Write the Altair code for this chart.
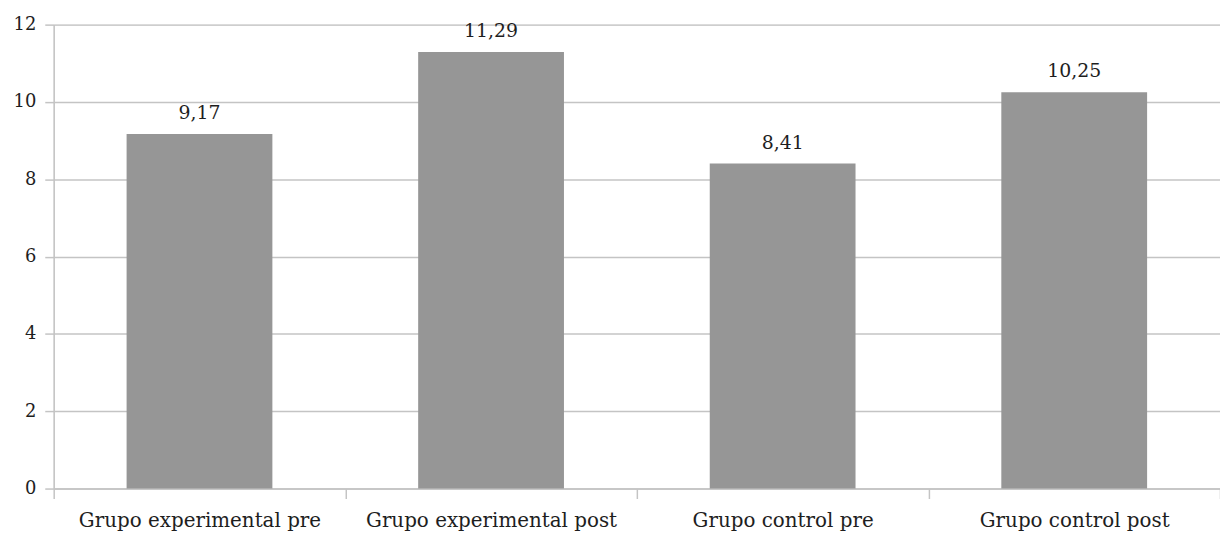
import altair as alt
import pandas as pd

categories = ["Grupo experimental pre", "Grupo experimental post", "Grupo control pre", "Grupo control post"]
values = [9.17, 11.29, 8.41, 10.25]

df = pd.DataFrame({"grupo": categories, "valor": values})
df["etiqueta"] = [f"{v:.2f}".replace(".", ",") for v in values]

FONT = "DejaVu Serif"
GRID = "#c4c4c4"
TXT = "#1e1e1e"

x_scale = alt.Scale(paddingInner=0, paddingOuter=0)

x_enc = alt.X(
    "grupo:N",
    sort=categories,
    title=None,
    scale=x_scale,
    axis=alt.Axis(
        labelAngle=0,
        labelFont=FONT,
        labelFontSize=20,
        labelColor=TXT,
        labelPadding=12,
        labelLimit=0,
        tickSize=10,
        tickBand="extent",
        tickColor=GRID,
        tickWidth=1.5,
        domainColor=GRID,
        domainWidth=1.5,
        grid=False,
    ),
)

y_enc = alt.Y(
    "valor:Q",
    title=None,
    scale=alt.Scale(domain=[0, 12], nice=False),
    axis=alt.Axis(
        values=[0, 2, 4, 6, 8, 10, 12],
        labelFont=FONT,
        labelFontSize=18,
        labelColor=TXT,
        labelPadding=9,
        tickSize=9,
        tickColor=GRID,
        tickWidth=1.5,
        domainColor=GRID,
        domainWidth=1.5,
        grid=True,
        gridColor=GRID,
        gridWidth=1.5,
    ),
)

bars = alt.Chart(df).mark_bar(color="#969696", width=alt.RelativeBandSize(0.5)).encode(x=x_enc, y=y_enc)

labels = alt.Chart(df).mark_text(
    font=FONT, fontSize=19, color=TXT, baseline="alphabetic", dy=-15
).encode(x=alt.X("grupo:N", sort=categories, scale=x_scale), y="valor:Q", text="etiqueta:N")

chart = (
    alt.layer(bars, labels)
    .properties(
        width=1174,
        height=467,
        autosize=alt.AutoSizeParams(type="none"),
        padding={"left": 46, "top": 15, "right": 0, "bottom": 44},
    )
    .configure_view(stroke=None)
    .configure(background="white")
)

chart.save("out.html", embed_options={"renderer": "svg", "actions": False})
